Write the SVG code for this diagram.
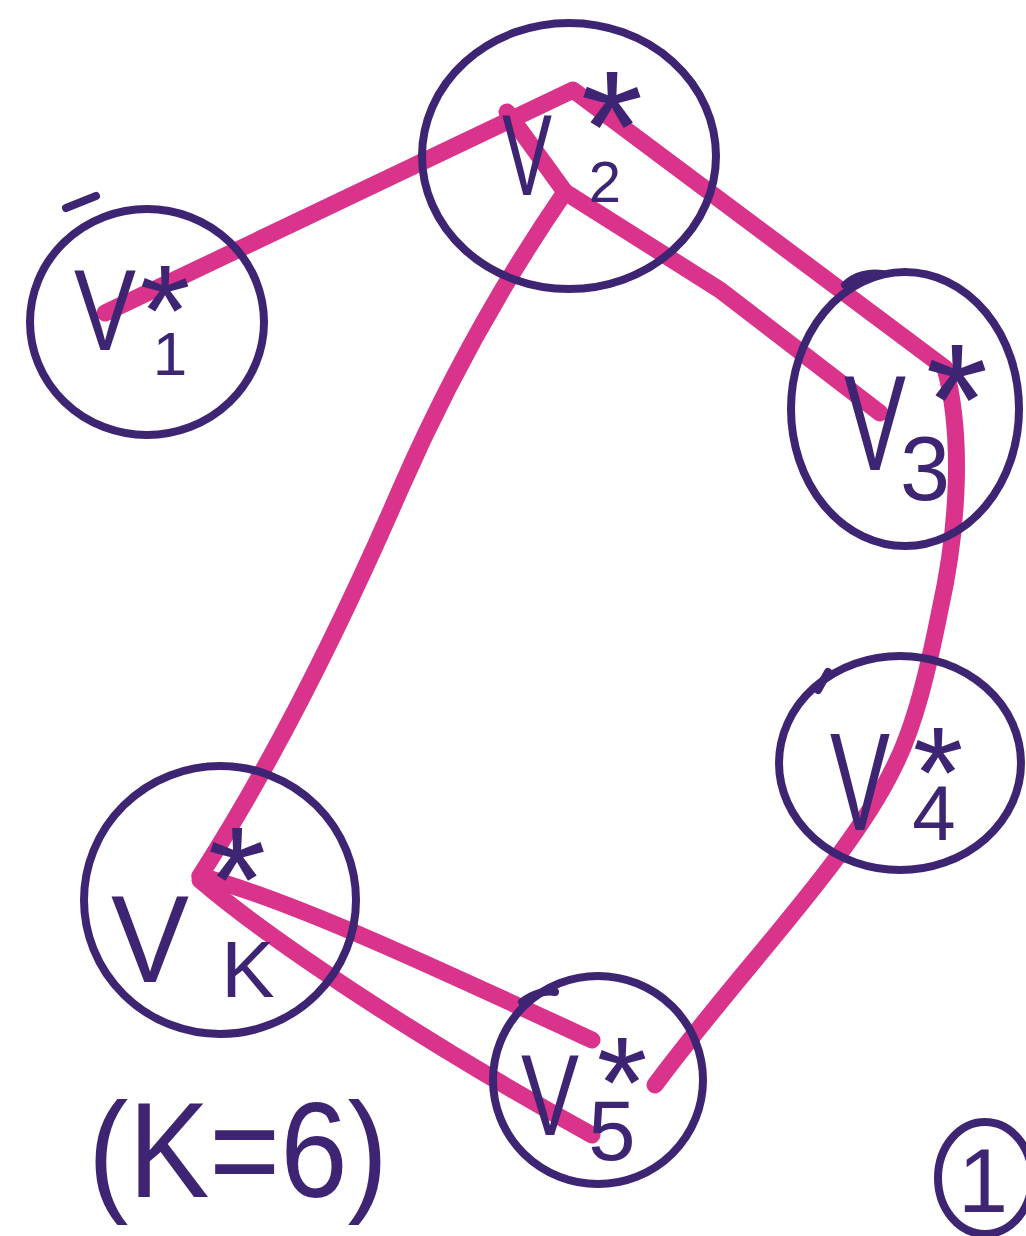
<svg xmlns="http://www.w3.org/2000/svg" width="1026" height="1236" viewBox="0 0 1026 1236">
<style>
.ring{fill:none;stroke:#3e2574;stroke-width:8;stroke-linecap:round;stroke-linejoin:round}
.lbl{fill:#3e2574;font-family:"Liberation Sans",Arial,sans-serif;text-anchor:middle}
.edge{fill:none;stroke:#d9338b;stroke-width:17;stroke-linecap:round;stroke-linejoin:round}
</style>
<rect width="1026" height="1236" fill="#ffffff"/>
<g id="connectors">
<path class="edge" d="M105,313 L573,90 L945,368 C962,430 960,520 940,610 C928,670 915,725 895,765 C850,860 740,970 655,1085"/>
<path class="edge" d="M507,112 L565,192 L720,290 L880,413"/>
<path class="edge" d="M565,192 Q470,330 400,490 Q300,720 200,876"/>
<path class="edge" d="M200,876 C290,900 430,965 592,1040"/>
<path class="edge" d="M200,880 C270,940 420,1040 592,1135"/>
</g>
<g id="v1">
<ellipse class="ring" cx="147" cy="322" rx="117" ry="113"/>
<path class="ring" d="M66,208 L96,196"/>
<text class="lbl"><tspan x="105" y="350" font-size="115" textLength="62" lengthAdjust="spacingAndGlyphs">V</tspan><tspan x="170" y="375" font-size="62">1</tspan><tspan x="165" y="356" font-size="130">*</tspan></text>
</g>
<g id="v2">
<ellipse class="ring" cx="569" cy="156" rx="147" ry="133"/>
<text class="lbl"><tspan x="527" y="195" font-size="115" textLength="50" lengthAdjust="spacingAndGlyphs">V</tspan><tspan x="605" y="202" font-size="58">2</tspan><tspan x="612" y="182" font-size="160">*</tspan></text>
</g>
<g id="v3">
<ellipse class="ring" cx="905" cy="409" rx="114" ry="137"/>
<path class="ring" d="M845,285 C855,275 870,272 882,274"/>
<text class="lbl"><tspan x="875" y="470" font-size="135" textLength="62" lengthAdjust="spacingAndGlyphs">V</tspan><tspan x="925" y="500" font-size="90">3</tspan><tspan x="957" y="455" font-size="160">*</tspan></text>
</g>
<g id="v4">
<ellipse class="ring" cx="900" cy="763" rx="121" ry="107"/>
<path class="ring" d="M818,690 L828,672"/>
<text class="lbl"><tspan x="860" y="830" font-size="140" textLength="60" lengthAdjust="spacingAndGlyphs">V</tspan><tspan x="934" y="840" font-size="78">4</tspan><tspan x="938" y="818" font-size="130">*</tspan></text>
</g>
<g id="vk">
<ellipse class="ring" cx="220" cy="900" rx="136" ry="134"/>
<text class="lbl"><tspan x="150" y="982" font-size="125" textLength="78" lengthAdjust="spacingAndGlyphs">V</tspan><tspan x="248" y="997" font-size="80">K</tspan><tspan x="237" y="932" font-size="150">*</tspan></text>
</g>
<g id="v5">
<ellipse class="ring" cx="598" cy="1080" rx="105" ry="104"/>
<path class="ring" d="M522,1002 C532,994 545,990 555,992"/>
<text class="lbl"><tspan x="550" y="1135" font-size="115" textLength="58" lengthAdjust="spacingAndGlyphs">V</tspan><tspan x="612" y="1160" font-size="85">5</tspan><tspan x="622" y="1128" font-size="130">*</tspan></text>
</g>
<g id="note">
<text class="lbl" x="238" y="1197" font-size="135" textLength="300" lengthAdjust="spacingAndGlyphs">(K=6)</text>
</g>
<g id="page">
<ellipse class="ring" cx="985" cy="1178" rx="47" ry="56"/>
<text class="lbl" x="983" y="1212" font-size="90">1</text>
</g>
</svg>
